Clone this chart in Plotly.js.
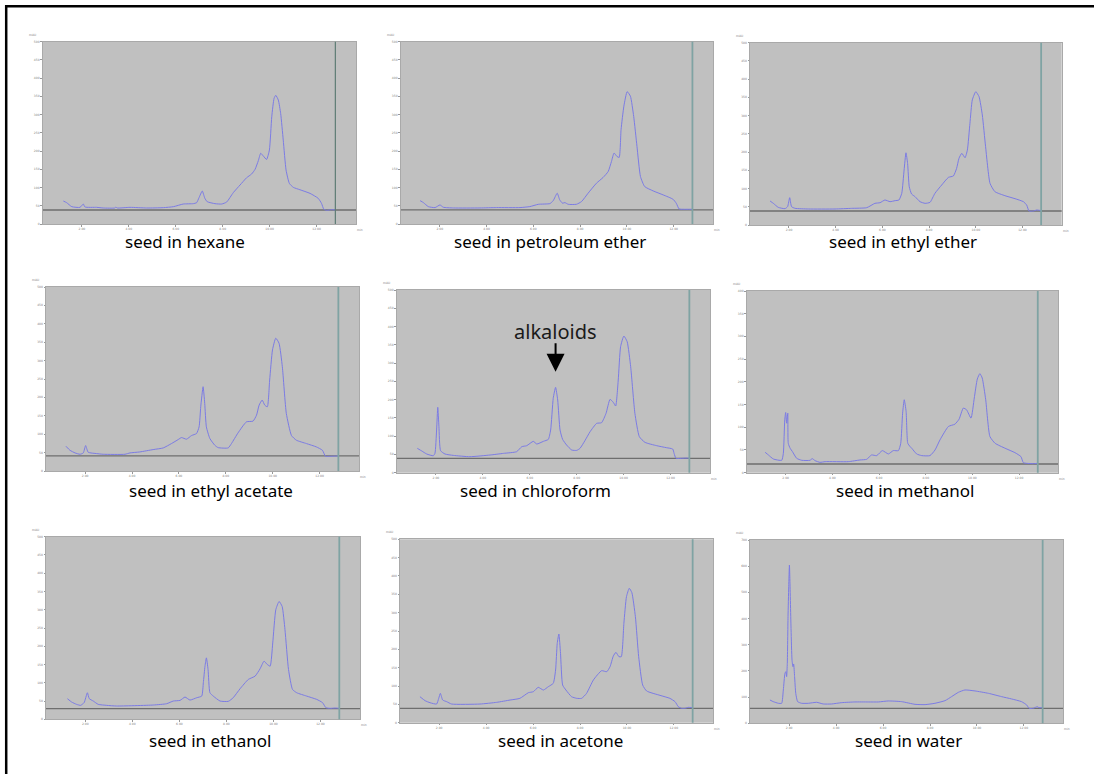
<!DOCTYPE html>
<html>
<head>
<meta charset="utf-8">
<script src="https://cdn.plot.ly/plotly-3.0.1.min.js"></script>
<style>
  html, body { margin: 0; padding: 0; background: #ffffff; }
  #chart { width: 1094px; height: 774px; }
</style>
</head>
<body>
<div id="chart"></div>
<script>
// Retention time (min) and absorbance (mAU) for each seed extract
const rtHexane = [1.21,1.35,1.57,1.92,2.06,2.13,2.63,2.91,3.40,3.45,3.50,4.05,4.76,5.47,5.90,6.32,6.75,6.89,6.99,7.13,7.24,7.34,7.67,7.96,8.17,8.45,8.74,9.02,9.23,9.38,9.52,9.62,9.73,9.87,9.99,10.09,10.19,10.26,10.37,10.47,10.58,10.70,10.84,11.01,11.29,11.72,12.07,12.21,12.31,12.43,12.64,12.80];
const auHexane = [63,58.5,47.5,45.7,54.8,46.6,45.7,43.9,43.9,46.5,43.9,45.7,43.9,44.8,47.5,54.8,55.8,58.5,72,90.5,70.4,61.2,55.8,54.8,60.3,85.9,107,127,137,150,174,194,186.5,177,203,294,345,353,340,303,230,148,111.5,100.5,94,84,70.4,56.7,40.2,37.5,39.3,38.4];

const rtPetEther = [1.16,1.30,1.51,1.80,2.01,2.15,2.58,3.72,4.43,5.43,5.85,6.21,6.71,6.85,7.02,7.13,7.25,7.35,7.49,7.84,8.06,8.34,8.70,8.98,9.20,9.34,9.45,9.58,9.67,9.75,9.87,10.01,10.15,10.29,10.43,10.58,10.76,11.12,11.55,11.97,12.11,12.23,12.40,12.78];
const auPetEther = [64,58.7,47.7,45,52.3,45.9,44,44,45,45,47.7,54,56,64,84.4,66,57,58.7,54,54,61.5,84.4,112,127.5,144,171.5,194.5,185,182.6,258.7,323,363,350.5,295,213,130,102.7,90.8,79.8,67.9,56.9,41.3,40.4,40.4];

const rtEthylEther = [1.19,1.33,1.54,1.83,1.94,2.03,2.11,2.26,2.83,3.97,4.68,5.33,5.68,5.90,6.11,6.33,6.54,6.71,6.83,6.93,7.01,7.08,7.15,7.25,7.40,7.61,7.83,8.04,8.25,8.54,8.83,9.04,9.18,9.28,9.40,9.54,9.64,9.75,9.85,10.00,10.14,10.28,10.42,10.61,10.82,11.25,11.68,12.04,12.18,12.28,12.47,12.61,12.82];
const auEthylEther = [65.8,59.4,48.4,44.8,50.3,75,50.3,45.7,43.9,43.9,45.7,47.5,59.4,61.2,68.6,64,66.7,68.6,86.8,150.8,198,169,105,85,77.7,64,59.4,62.2,86.8,109.7,130.7,134.4,155.4,182.8,196.5,184.6,205.7,278.8,342.8,365.6,352,301.7,214.8,114.3,91.4,80.4,72.2,64,54.8,38.4,38.4,41.1,39.3];

const rtEthylAcetate = [1.18,1.35,1.57,1.78,1.92,2.02,2.13,2.49,2.77,3.70,3.91,4.33,4.90,5.33,5.68,5.97,6.11,6.32,6.54,6.75,6.86,6.93,7.03,7.10,7.17,7.32,7.53,7.67,8.10,8.24,8.52,8.88,9.16,9.31,9.42,9.55,9.66,9.77,9.87,9.99,10.13,10.27,10.41,10.58,10.80,11.01,11.44,11.86,12.12,12.25,12.43,12.81];
const auEthylAcetate = [67.3,56.4,49.1,45.5,49.1,69.1,50.9,47.3,45.5,45.5,49.1,51.8,58.2,62.7,74.5,85.5,90.9,86.4,96.4,101.8,120,174.5,229,183.6,120,88.2,70,63.6,62.7,74.5,103.6,133.6,135.5,151.8,179,192.7,179,174.5,247.3,329,361,347,283.6,156.4,96.4,83.6,74.5,65.5,56.4,40,40,40.9];

const rtChloroform = [1.21,1.40,1.61,1.89,1.96,2.03,2.08,2.13,2.20,2.39,2.74,3.45,4.31,4.88,5.44,5.66,5.87,6.15,6.30,6.58,6.79,6.89,7.00,7.10,7.19,7.29,7.40,7.57,7.79,8.00,8.14,8.35,8.57,8.85,9.06,9.25,9.42,9.56,9.66,9.77,9.87,10.01,10.15,10.30,10.48,10.67,10.91,11.41,11.83,12.09,12.15,12.23,12.40,12.66,12.83];
const auChloroform = [66.6,59.3,51.1,46.5,52.9,116.8,178.8,125.9,60.2,51.1,47.4,43.8,48.4,52.9,57.5,71.2,73.9,85.8,78.5,85.8,91.2,116.8,203.5,233.6,198.9,116.8,91.2,75.7,62,61.1,66.6,87.6,112.2,135,136.9,162.4,200.7,192.5,182.5,253.6,344.9,374,358.6,290,162.4,98.5,83,73.9,68.4,64.8,52.9,39.2,39.2,40.1,39.2];

const rtMethanol = [1.12,1.26,1.47,1.83,1.90,1.96,2.00,2.04,2.09,2.11,2.19,2.29,2.47,2.69,3.04,3.14,3.26,3.47,3.69,4.68,5.18,5.47,5.68,5.90,6.14,6.40,6.61,6.83,6.93,7.01,7.08,7.16,7.23,7.33,7.40,7.61,7.83,8.18,8.40,8.61,8.97,9.25,9.43,9.61,9.75,9.94,10.08,10.21,10.32,10.42,10.57,10.75,10.97,11.40,11.82,12.08,12.18,12.32,12.61,12.80];
const auMethanol = [44.9,39,30.2,27.3,42.7,116.4,132.6,109,131,64.8,53.8,46.4,31.7,27.3,27.3,30.9,26.5,22.8,24.3,24.3,28,29.5,39,37.6,48.6,41.3,48.6,48.6,64.8,131,160.6,134.8,64.8,57.5,53.8,41.3,37.6,37.6,50.1,72.2,101.7,106.8,117.9,142.2,138.5,120.1,164.3,206.3,218,208.5,160.6,79.6,64.8,53.8,44.2,35.4,22.1,20.6,19.9,20.6];

const rtEthanol = [1.24,1.42,1.63,1.80,1.95,2.09,2.17,2.34,2.55,2.91,3.33,4.89,5.46,5.74,6.03,6.24,6.45,6.74,6.95,7.02,7.09,7.15,7.22,7.30,7.44,7.73,8.08,8.29,8.58,8.93,9.22,9.43,9.60,9.74,9.86,9.97,10.10,10.24,10.37,10.49,10.64,10.81,10.99,11.41,11.84,12.09,12.23,12.40,12.62,12.83];
const auEthanol = [56.4,47.3,40.9,38.2,45.5,72.7,56.4,50,40.9,38.2,36.4,39.1,42.7,50,51.8,60.9,52.7,59.1,63.6,100,145.5,168.2,136.4,72.7,63.6,50,49.1,59.1,83.6,109.1,118.2,138.2,159.1,150,145.5,209,300,322.7,309,245.5,136.4,81.8,72.7,63.6,54.5,45.5,31.8,30,30.9,30];

const rtAcetone = [1.18,1.40,1.61,1.89,1.98,2.05,2.15,2.32,2.53,3.74,4.45,5.02,5.44,5.80,6.01,6.22,6.44,6.65,6.86,6.96,7.03,7.10,7.17,7.26,7.40,7.64,7.86,8.07,8.28,8.57,8.92,9.14,9.28,9.42,9.53,9.66,9.76,9.87,9.98,10.10,10.21,10.36,10.50,10.67,10.84,11.41,11.83,12.05,12.19,12.33,12.47,12.61,12.80];
const auAcetone = [70.9,60,54.5,50.9,66.4,80,61.8,57.3,50.9,50.9,55.5,61.8,66.4,81.8,84.5,96.4,89.1,98.2,107.3,143.6,216.4,241.8,189,102.7,89.1,70.9,66.4,66.4,80,116.4,141.8,139,152.7,181.8,191.8,180,180,271,343.6,366.4,354.5,289,180,102.7,86.4,74.5,66.4,57.3,43.6,39.1,39.1,41.8,40.9];

const rtWater = [1.18,1.32,1.54,1.68,1.75,1.82,1.86,1.89,1.92,1.95,1.98,2.01,2.03,2.08,2.12,2.16,2.19,2.23,2.28,2.36,2.53,2.82,3.17,3.45,3.81,4.24,4.80,5.37,5.80,6.22,6.79,7.36,7.79,8.21,8.64,8.92,9.21,9.49,9.92,10.49,11.05,11.48,11.90,12.12,12.22,12.40,12.57,12.64,12.80];
const auWater = [89,82.7,76.4,76.4,127.3,191,197.3,178.2,229,407.3,521.8,604.5,547.3,356.4,241.8,216.4,226.5,178.2,114.5,82.7,76.4,76.4,80.2,73.8,73.8,78.9,81.5,81.5,81.5,85.3,82.7,72.5,71.3,76.4,86.5,101.8,118.4,127.3,123.5,114.5,101.8,92.9,82.7,70,57.3,57.3,63.6,59.8,59.8];

// Panel captions, in reading order
const sampleLabels = ['seed in hexane','seed in petroleum ether','seed in ethyl ether',
  'seed in ethyl acetate','seed in chloroform','seed in methanol',
  'seed in ethanol','seed in acetone','seed in water'];

// Baseline level (mAU) drawn in each chromatogram
const baselineLevels = [38.4,38.5,38.4,40.9,39.2,19.2,29,39,57];
// Detection window end (min)
const windowEnd = 12.8;
// Upper limit and tick step of each absorbance axis
const auMax  = [500,500,500,500,500,400,500,500,700];
const auStep = [50,50,50,50,50,50,50,50,100];

// Peak marked as alkaloids in the chloroform extract
const alkaloidRt = 7.10, alkaloidAu = 276;

const rtSeries = [rtHexane,rtPetEther,rtEthylEther,rtEthylAcetate,rtChloroform,rtMethanol,rtEthanol,rtAcetone,rtWater];
const auSeries = [auHexane,auPetEther,auEthylEther,auEthylAcetate,auChloroform,auMethanol,auEthanol,auAcetone,auWater];

// Plot-area boxes in pixels [left, right, top, bottom]
const W = 1094, H = 774;
const boxes = [
  [42.7,356,41.7,224],[400.7,713,41.7,224],[750,1061.7,42.7,225],
  [46,359,287,471],[396.7,710,290,472.7],[746.7,1058.3,291,472.7],
  [46,360,536.7,719.3],[400,713.3,539.3,722.7],[750,1063.3,540,723.3]
];
const captionPos = [[185,242],[549.5,242],[903,242],[211,490],[535.5,490],[904.5,490],[210,740],[560,740],[908,740]];

const traces = [];
const layout = {
  width: W, height: H,
  margin: {l: 0, r: 0, t: 0, b: 0},
  paper_bgcolor: '#ffffff',
  showlegend: false,
  font: {family: 'Noto Sans, DejaVu Sans, sans-serif', color: '#000'},
  shapes: [], annotations: []
};

const tickFont = {size: 3, color: '#808080', family: 'DejaVu Sans'};

for (let i = 0; i < 9; i++) {
  const n = i === 0 ? '' : String(i + 1);
  const b = boxes[i];
  traces.push({
    type: 'scatter', mode: 'lines',
    x: rtSeries[i], y: auSeries[i],
    xaxis: 'x' + n, yaxis: 'y' + n,
    line: {color: '#7b7be4', width: 1, shape: 'spline', smoothing: 0.5},
    hoverinfo: 'x+y'
  });
  const yt = [];
  for (let v = 0; v <= auMax[i] + 1e-9; v += auStep[i]) yt.push(v);
  layout['xaxis' + n] = {
    domain: [b[0] / W, b[1] / W], anchor: 'y' + n,
    range: [0.33, 13.68], tickvals: [2,4,6,8,10,12],
    ticktext: ['2.00','4.00','6.00','8.00','10.00','12.00'],
    ticks: 'outside', ticklen: 1.5, tickcolor: '#999', tickfont: tickFont,
    showgrid: false, zeroline: false,
    showline: true, linecolor: '#a9a9a9', linewidth: 1, mirror: true
  };
  layout['yaxis' + n] = {
    domain: [1 - b[3] / H, 1 - b[2] / H], anchor: 'x' + n,
    range: [0, auMax[i]], tickvals: yt,
    ticks: 'outside', ticklen: 1.5, tickcolor: '#999', tickfont: tickFont,
    showgrid: false, zeroline: false,
    showline: true, linecolor: '#a9a9a9', linewidth: 1, mirror: true
  };
  // gray plot background
  layout.shapes.push({
    type: 'rect', layer: 'below',
    xref: 'x' + n + ' domain', yref: 'y' + n + ' domain',
    x0: 0, x1: 1, y0: 0, y1: 1,
    fillcolor: '#c0c0c0', line: {width: 0}
  });
  // baseline
  layout.shapes.push({
    type: 'line', layer: 'below',
    xref: 'x' + n + ' domain', yref: 'y' + n,
    x0: 0, x1: 1, y0: baselineLevels[i], y1: baselineLevels[i],
    line: {color: '#6e6e6e', width: 1.3}
  });
  // end of detection window
  layout.shapes.push({
    type: 'line',
    xref: 'x' + n, yref: 'y' + n + ' domain',
    x0: windowEnd, x1: windowEnd, y0: 0, y1: 1,
    line: {color: i === 0 ? '#5d7c74' : '#7fa3a3', width: i === 0 ? 1.2 : 1.8}
  });
  // axis unit labels
  layout.annotations.push({
    xref: 'paper', yref: 'paper', x: (b[0] - 5) / W, y: 1 - (b[2] - 3) / H,
    xanchor: 'right', yanchor: 'bottom', showarrow: false,
    text: 'mAU', font: {size: 3, color: '#808080', family: 'DejaVu Sans'}
  });
  layout.annotations.push({
    xref: 'paper', yref: 'paper', x: (b[1] - 1) / W, y: 1 - (b[3] + 6) / H,
    xanchor: 'left', yanchor: 'middle', showarrow: false,
    text: 'min', font: {size: 3, color: '#808080', family: 'DejaVu Sans'}
  });
  // caption
  layout.annotations.push({
    xref: 'paper', yref: 'paper',
    x: captionPos[i][0] / W, y: 1 - captionPos[i][1] / H,
    xanchor: 'center', yanchor: 'middle', showarrow: false,
    text: sampleLabels[i], font: {size: 17, color: '#000'}
  });
}

// alkaloid marker on the chloroform chromatogram
layout.annotations.push({
  xref: 'x5', yref: 'y5', x: alkaloidRt, y: alkaloidAu,
  text: '', showarrow: true, ax: 0, ay: -30,
  arrowhead: 2, arrowsize: 1.8, arrowwidth: 2, arrowcolor: '#000'
});
layout.annotations.push({
  xref: 'paper', yref: 'paper', x: 555.5 / W, y: 1 - 332 / H,
  xanchor: 'center', yanchor: 'middle', showarrow: false,
  text: 'alkaloids', font: {size: 20, color: '#1a1a1a'}
});

// page frame
layout.shapes.push({type: 'line', xref: 'paper', yref: 'paper', x0: 5 / W, x1: 1, y0: 1 - 6.2 / H, y1: 1 - 6.2 / H, line: {color: '#000', width: 2.5}});
layout.shapes.push({type: 'line', xref: 'paper', yref: 'paper', x0: 6.2 / W, x1: 6.2 / W, y0: 0, y1: 1 - 5 / H, line: {color: '#000', width: 2.5}});

Plotly.newPlot('chart', traces, layout, {displayModeBar: false, staticPlot: true});
</script>
</body>
</html>
